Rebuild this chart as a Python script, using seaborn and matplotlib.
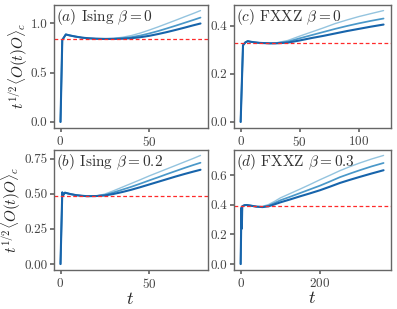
import numpy as np
import pandas as pd
import matplotlib
matplotlib.use("Agg")
import matplotlib.pyplot as plt
import seaborn as sns

# (a) Ising beta = 0
t_a = [0, 1, 3, 5, 8, 12, 16, 20, 25, 30, 35, 40, 45, 50, 55, 60, 65, 70, 75, 79]
early_a = [0, 0.83, 0.886, 0.877, 0.866, 0.854, 0.847, 0.843, 0.841]
a_light = early_a + [0.846, 0.858, 0.875, 0.90, 0.93, 0.962, 0.996, 1.03, 1.065, 1.099, 1.128]
a_mid = early_a + [0.843, 0.849, 0.859, 0.875, 0.896, 0.92, 0.947, 0.975, 1.004, 1.033, 1.057]
a_dark = early_a + [0.841, 0.843, 0.848, 0.858, 0.872, 0.89, 0.91, 0.932, 0.955, 0.979, 0.997]
plateau_a = 0.838

# (b) Ising beta = 0.2
t_b = [0, 1, 1.5, 2.5, 4, 6, 9, 12, 15, 20, 25, 30, 35, 40, 45, 50, 55, 60, 65, 70, 75, 79]
early_b = [0, 0.51, 0.49, 0.508, 0.503, 0.497, 0.49, 0.486, 0.483, 0.484]
b_light = early_b + [0.498, 0.522, 0.548, 0.574, 0.60, 0.627, 0.652, 0.677, 0.702, 0.727, 0.752, 0.773]
b_mid = early_b + [0.492, 0.51, 0.53, 0.55, 0.572, 0.595, 0.617, 0.64, 0.662, 0.684, 0.705, 0.721]
b_dark = early_b + [0.488, 0.499, 0.513, 0.529, 0.547, 0.566, 0.585, 0.604, 0.623, 0.641, 0.658, 0.671]
plateau_b = 0.487

# (c) FXXZ beta = 0
t_c = [0, 2, 4, 6, 8, 12, 16, 20, 25, 30, 40, 50, 60, 70, 80, 90, 100, 110, 121]
early_c = [0, 0.318, 0.33, 0.335, 0.333, 0.33, 0.328, 0.327, 0.326]
c_light = early_c + [0.328, 0.338, 0.356, 0.373, 0.39, 0.408, 0.423, 0.437, 0.449, 0.462]
c_mid = early_c + [0.327, 0.333, 0.347, 0.36, 0.373, 0.386, 0.398, 0.409, 0.419, 0.429]
c_dark = early_c + [0.326, 0.329, 0.338, 0.348, 0.357, 0.367, 0.377, 0.386, 0.395, 0.404]
plateau_c = 0.327

# (d) FXXZ beta = 0.3
t_d = [0, 2, 3, 4, 6, 10, 15, 25, 40, 55, 70, 85, 100, 125, 150, 175, 200, 225, 250, 275, 300, 330, 360]
early_d = [0, 0.38, 0.24, 0.39, 0.393, 0.398, 0.399, 0.395, 0.388]
d_light = early_d + [0.39, 0.402, 0.423, 0.447, 0.477, 0.507, 0.538, 0.57, 0.60, 0.631, 0.658, 0.683, 0.71, 0.734]
d_mid = early_d + [0.386, 0.395, 0.412, 0.431, 0.455, 0.48, 0.505, 0.53, 0.558, 0.587, 0.611, 0.634, 0.66, 0.683]
d_dark = early_d + [0.385, 0.39, 0.403, 0.417, 0.437, 0.458, 0.478, 0.499, 0.523, 0.548, 0.569, 0.589, 0.612, 0.634]
plateau_d = 0.395

titles = [r"$(a)$ Ising $\beta = 0$", r"$(c)$ FXXZ $\beta = 0$",
          r"$(b)$ Ising $\beta = 0.2$", r"$(d)$ FXXZ $\beta = 0.3$"]

sns.set_theme(style="ticks")
plt.rcParams["font.family"] = ["cmr10", "DejaVu Serif"]
plt.rcParams["mathtext.fontset"] = "cm"
plt.rcParams["axes.formatter.use_mathtext"] = True
plt.rcParams["axes.edgecolor"] = "#666666"
plt.rcParams["xtick.color"] = "#666666"
plt.rcParams["ytick.color"] = "#666666"
plt.rcParams["xtick.labelcolor"] = "#444444"
plt.rcParams["ytick.labelcolor"] = "#444444"
plt.rcParams["xtick.labelsize"] = 9.5
plt.rcParams["ytick.labelsize"] = 9.5
plt.rcParams["xtick.major.size"] = 3
plt.rcParams["ytick.major.size"] = 3
plt.rcParams["xtick.major.pad"] = 2.5
plt.rcParams["ytick.major.pad"] = 1.5

colors = sns.color_palette("Blues", 4)[1:]
widths = [1.0, 1.25, 1.5]

panels = [
    (t_a, [a_light, a_mid, a_dark], plateau_a),
    (t_c, [c_light, c_mid, c_dark], plateau_c),
    (t_b, [b_light, b_mid, b_dark], plateau_b),
    (t_d, [d_light, d_mid, d_dark], plateau_d),
]

# axes boxes in pixels (left, top, right, bottom)
W, H = 397, 309
boxes = [(53.5, 5, 207.5, 127.5), (233.5, 5, 390.7, 127.5),
         (53.5, 150, 207.5, 269.5), (233.5, 150, 390.7, 269.5)]

fig = plt.figure(figsize=(W / 100, H / 100), dpi=100)
for i, ((t, series, plat), box) in enumerate(zip(panels, boxes)):
    l, tp, r, b = box
    ax = fig.add_axes([l / W, 1 - b / H, (r - l) / W, (b - tp) / H])
    for k, y in enumerate(series):
        df = pd.DataFrame({"t": t, "y": y})
        sns.lineplot(data=df, x="t", y="y", color=colors[k], lw=widths[k], ax=ax)
    ax.axhline(plat, color="#ff2a2a", ls="--", lw=0.9, dashes=(3, 2))
    ax.text(0.015, 0.985, titles[i], transform=ax.transAxes, ha="left", va="top",
            fontsize=11, color="#333333")
    for s in ax.spines.values():
        s.set_visible(True)
        s.set_linewidth(1.0)
    ax.set_xlabel("")
    ax.set_ylabel("")
    if i % 2 == 0:
        ax.set_ylabel(r"$t^{1/2}\langle O(t)O\rangle_c$", fontsize=11, color="#222222", labelpad=0.5)
    if i >= 2:
        ax.set_xlabel(r"$t$", fontsize=13, color="#222222", labelpad=0)

fig.axes[0].set_yticks([0.0, 0.5, 1.0])
fig.axes[0].set_xticks([0, 50])
fig.axes[1].set_yticks([0.0, 0.2, 0.4])
fig.axes[1].set_xticks([0, 50, 100])
fig.axes[2].set_yticks([0.0, 0.25, 0.5, 0.75])
fig.axes[2].set_xticks([0, 50])
fig.axes[3].set_yticks([0.0, 0.2, 0.4, 0.6])
fig.axes[3].set_xticks([0, 200])
fig.axes[0].set_yticklabels(["0.0", "0.5", "1.0"])
fig.axes[1].set_yticklabels(["0.0", "0.2", "0.4"])
fig.axes[2].set_yticklabels(["0.00", "0.25", "0.50", "0.75"])
fig.axes[3].set_yticklabels(["0.0", "0.2", "0.4", "0.6"])

fig.savefig("out.png", dpi=100)
